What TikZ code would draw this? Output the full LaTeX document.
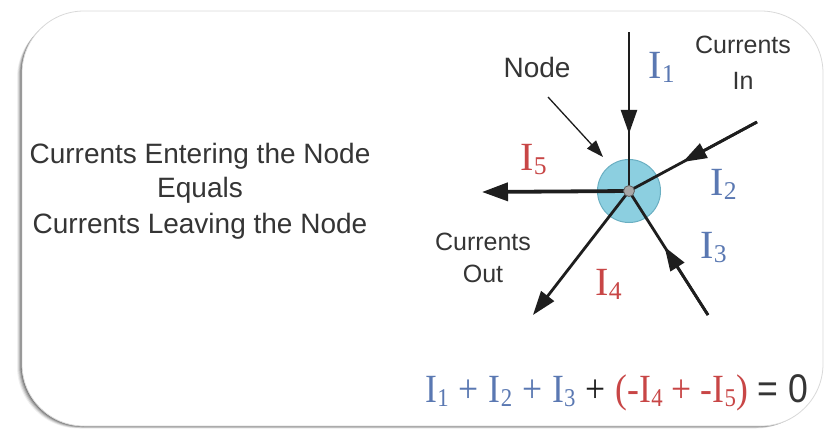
\documentclass[tikz,border=0pt]{standalone}
\usepackage{fontspec}
\setmainfont{Liberation Sans}
\newfontfamily\serifI{Liberation Serif}
\usetikzlibrary{arrows.meta,calc}
\definecolor{cblue}{HTML}{5A78B2}
\definecolor{cred}{HTML}{C84646}
\definecolor{ink}{HTML}{1E1E1E}
\definecolor{nodefill}{HTML}{8CCFE0}
\definecolor{nodeedge}{HTML}{6AAFC2}
\newcommand\Icur[1]{{\serifI I\kern0.01em\raisebox{-0.12em}{\scalebox{0.64}{#1}}}}
\tikzset{
  wire/.style={draw=ink, line width=2.8pt},
  tip/.style={-{Triangle[length=24pt,width=16pt]}},
  cur/.style={inner sep=0pt, anchor=base west, font=\fontsize{40}{40}\selectfont},
  txt/.style={inner sep=0pt, anchor=base, text=ink!90, font=\fontsize{28}{28}\selectfont},
  small/.style={inner sep=0pt, anchor=base, text=ink!90, font=\fontsize{25}{25}\selectfont},
}
\begin{document}
\begin{tikzpicture}[x=1pt,y=-1pt]
\useasboundingbox (0,0) rectangle (831,429);
% frame with shadow
\foreach \o/\op in {5/0.06,4/0.10,3/0.14,2/0.18,1/0.22}{
  \fill[black, opacity=\op, rounded corners=62pt] (22-\o,11+\o) rectangle (823-\o,426+\o*0.5);
}
\fill[white, rounded corners=62pt] (22,11) rectangle (823,426);
\draw[gray!30, line width=0.8pt, rounded corners=62pt] (22,11) rectangle (823,426);

% left text
\node[txt] (t1) at (200,163) {Currents Entering the Node};
\node[txt] (t2) at (200,197) {Equals};
\node[txt] (t3) at (200,233) {Currents Leaving the Node};

% junction
\node[circle, minimum size=63pt, inner sep=0pt, fill=nodefill, draw=nodeedge, line width=1pt] (jn) at (629,191) {};
\coordinate (c) at (629,191);
\coordinate (e1) at (629,32);
\coordinate (e2) at (757,122);
\coordinate (e3) at (708,315);
\coordinate (e4) at (533,315);
\coordinate (e5) at (482,192);

\draw[wire] (e1) -- (c);
\draw[wire, tip] (e1) -- ($(e1)!0.64!(c)$);
\draw[wire] (e2) -- (c);
\draw[wire, tip] (e2) -- ($(e2)!0.58!(c)$);
\draw[wire] (e3) -- (c);
\draw[wire, tip] (e3) -- ($(e3)!0.55!(c)$);
\draw[wire, tip] (c) -- (e4);
\draw[wire, line width=3.8pt, -{Triangle[length=26pt,width=18pt]}] (c) -- (e5);

\node[circle, minimum size=11pt, inner sep=0pt, fill=gray!70, draw=ink!70, line width=0.8pt] (dot) at (c) {};

% Node label and pointer
\node[txt] (nl) at (537,77) {Node};
\coordinate (p0) at (548,97);
\draw[ink, line width=1.3pt, -{Triangle[length=17pt,width=12pt]}] (p0) -- (603,157);

% currents in / out
\node[small] (ci1) at (743,53) {Currents};
\node[small] (ci2) at (743,89) {In};
\node[small] (co1) at (483,250) {Currents};
\node[small] (co2) at (483,282) {Out};

% current labels
\node[cur, text=cblue] (l1) at (648,78) {\Icur{1}};
\node[cur, text=cblue] (l2) at (710,195) {\Icur{2}};
\node[cur, text=cblue] (l3) at (700,258) {\Icur{3}};
\node[cur, text=cred] (l4) at (595,295) {\Icur{4}};
\node[cur, text=cred] (l5) at (520,170) {\Icur{5}};

% equation
\node[cur] (eq) at (425,402) {\resizebox{383pt}{\height}{\textcolor{cblue}{\Icur{1} {\serifI+} \Icur{2} {\serifI+} \Icur{3}} {\color{ink}\serifI+} \textcolor{cred}{\serifI(-\Icur{4} + -\Icur{5})} {\color{ink!90}= 0}}};
\end{tikzpicture}
\end{document}
